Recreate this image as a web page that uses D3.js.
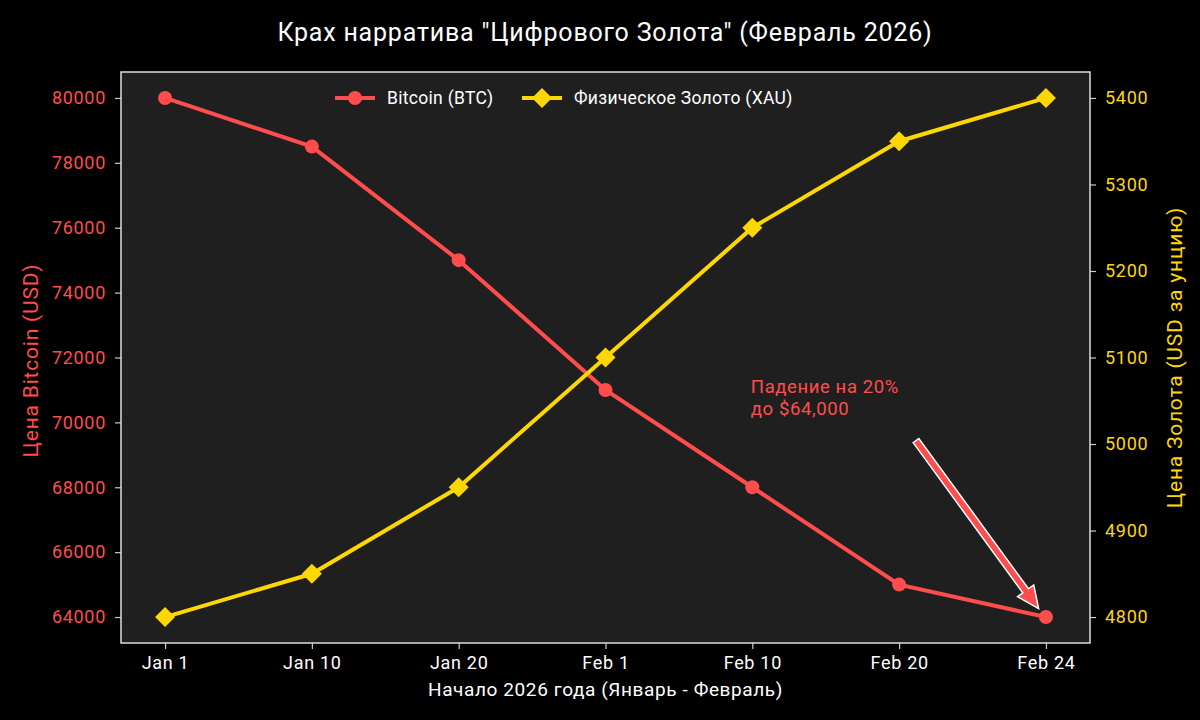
<!DOCTYPE html>
<html><head><meta charset="utf-8">
<script src="https://cdn.jsdelivr.net/npm/d3@7"></script>
<style>html,body{margin:0;padding:0;background:#000;}svg{display:block;font-family:Roboto,"Open Sans",sans-serif;}</style>
</head><body>
<svg id="c" width="1200" height="720"></svg>
<script>
const categories = ["Jan 1","Jan 10","Jan 20","Feb 1","Feb 10","Feb 20","Feb 24"];
const btcValues = [80000,78500,75000,71000,68000,65000,64000];
const goldValues = [4800,4850,4950,5100,5250,5350,5400];
const btcTicks = [64000,66000,68000,70000,72000,74000,76000,78000,80000];
const goldTicks = [4800,4900,5000,5100,5200,5300,5400];
const annotationLines = ["Падение на 20%","до $64,000"];

const RED = "#ff4d4d", GOLD = "#ffd700";
const svg = d3.select("#c");
const L = 121, R = 1090, T = 72, B = 643;

const x = d3.scaleLinear().domain([-0.3, categories.length - 1 + 0.3]).range([L, R]);
const yB = d3.scaleLinear().domain([64000 - 800, 80000 + 800]).range([B, T]);
const yG = d3.scaleLinear().domain([4800 - 30, 5400 + 30]).range([B, T]);

svg.append("rect").attr("x",L).attr("y",T).attr("width",R-L).attr("height",B-T).attr("fill","#1f1f1f");

// axes
const ax = d3.axisBottom(x).tickValues(d3.range(categories.length)).tickFormat(i=>categories[i]).tickSize(6).tickPadding(7);
const gx = svg.append("g").attr("transform",`translate(0,${B})`).call(ax);
const ayL = d3.axisLeft(yB).tickValues(btcTicks).tickFormat(d=>d).tickSize(6).tickPadding(9);
const gl = svg.append("g").attr("transform",`translate(${L},0)`).call(ayL);
const ayR = d3.axisRight(yG).tickValues(goldTicks).tickFormat(d=>d).tickSize(6).tickPadding(9);
const gr = svg.append("g").attr("transform",`translate(${R},0)`).call(ayR);
[gx,gl,gr].forEach(g=>{g.select(".domain").remove(); g.selectAll(".tick line").attr("stroke","#cccccc").attr("stroke-width",1.2); g.selectAll("text").attr("font-size",18).attr("letter-spacing",0.7).attr("font-family","Roboto, sans-serif");});
gx.selectAll("text").attr("fill","#ffffff");
gl.selectAll("text").attr("fill",RED);
gr.selectAll("text").attr("fill",GOLD);

svg.append("rect").attr("x",L).attr("y",T).attr("width",R-L).attr("height",B-T).attr("fill","none").attr("stroke","#dddddd").attr("stroke-width",1.5);

// lines
const lineB = d3.line().x((d,i)=>x(i)).y(d=>yB(d));
const lineG = d3.line().x((d,i)=>x(i)).y(d=>yG(d));
const diamond = d3.symbol().type(d3.symbolSquare).size(200);
svg.append("path").datum(btcValues).attr("d",lineB).attr("fill","none").attr("stroke",RED).attr("stroke-width",4);
svg.selectAll(".bm").data(btcValues).join("circle").attr("cx",(d,i)=>x(i)).attr("cy",d=>yB(d)).attr("r",7).attr("fill",RED);
svg.append("path").datum(goldValues).attr("d",lineG).attr("fill","none").attr("stroke",GOLD).attr("stroke-width",4);
svg.selectAll(".gm").data(goldValues).join("path").attr("d",diamond)
  .attr("transform",(d,i)=>`translate(${x(i)},${yG(d)}) rotate(45)`).attr("fill",GOLD);

// annotation
const tx = x(3.99), ty = yB(70900);
const at = svg.append("text").attr("x",tx).attr("y",ty).attr("fill",RED).attr("font-size",18.5).attr("letter-spacing",0.6);
annotationLines.forEach((t,i)=>at.append("tspan").attr("x",tx).attr("dy",i?22:0).text(t));
// arrow
const x0 = x(5.115), y0 = yB(69440), x1 = x(5.95), y1 = yB(64260);
const dx = x1-x0, dy = y1-y0, len = Math.hypot(dx,dy), ux = dx/len, uy = dy/len, px = -uy, py = ux;
const sw = 3.5, hw = 10, hl = 22;
const bx = x1 - ux*hl, by = y1 - uy*hl;
const pts = [
  [x0+px*sw, y0+py*sw],[bx+px*sw, by+py*sw],[bx+px*hw, by+py*hw],[x1,y1],
  [bx-px*hw, by-py*hw],[bx-px*sw, by-py*sw],[x0-px*sw, y0-py*sw]];
svg.append("polygon").attr("points",pts.map(p=>p.join(",")).join(" ")).attr("fill",RED).attr("stroke","#ffffff").attr("stroke-width",1.5).attr("stroke-linejoin","miter");

// legend
const lg = svg.append("g");
const legendItems = [{name:"Bitcoin (BTC)",c:RED,m:"c",x:335},{name:"Физическое Золото (XAU)",c:GOLD,m:"d",x:522}];
legendItems.forEach(it=>{
  const yy = 98;
  lg.append("line").attr("x1",it.x).attr("x2",it.x+40).attr("y1",yy).attr("y2",yy).attr("stroke",it.c).attr("stroke-width",4);
  if(it.m==="c") lg.append("circle").attr("cx",it.x+20).attr("cy",yy).attr("r",7).attr("fill",it.c);
  else lg.append("path").attr("d",diamond).attr("transform",`translate(${it.x+20},${yy}) rotate(45)`).attr("fill",it.c);
  lg.append("text").attr("x",it.x+52).attr("y",yy).attr("dy","0.35em").attr("fill","#ffffff").attr("font-size",17.5).attr("letter-spacing",0.3).text(it.name);
});

// titles
svg.append("text").attr("x",605).attr("y",41).attr("text-anchor","middle").attr("fill","#fff").attr("font-size",25).attr("letter-spacing",0.8).text('Крах нарратива "Цифрового Золота" (Февраль 2026)');
svg.append("text").attr("x",(L+R)/2).attr("y",696).attr("text-anchor","middle").attr("fill","#fff").attr("font-size",19).attr("letter-spacing",0.6).text("Начало 2026 года (Январь - Февраль)");
svg.append("text").attr("transform",`translate(38,${(T+B)/2+3}) rotate(-90)`).attr("text-anchor","middle").attr("fill",RED).attr("font-size",21).attr("letter-spacing",0.8).text("Цена Bitcoin (USD)");
svg.append("text").attr("transform",`translate(1182,${(T+B)/2}) rotate(-90)`).attr("text-anchor","middle").attr("fill",GOLD).attr("font-size",21).attr("letter-spacing",0.8).text("Цена Золота (USD за унцию)");
</script>
</body></html>
